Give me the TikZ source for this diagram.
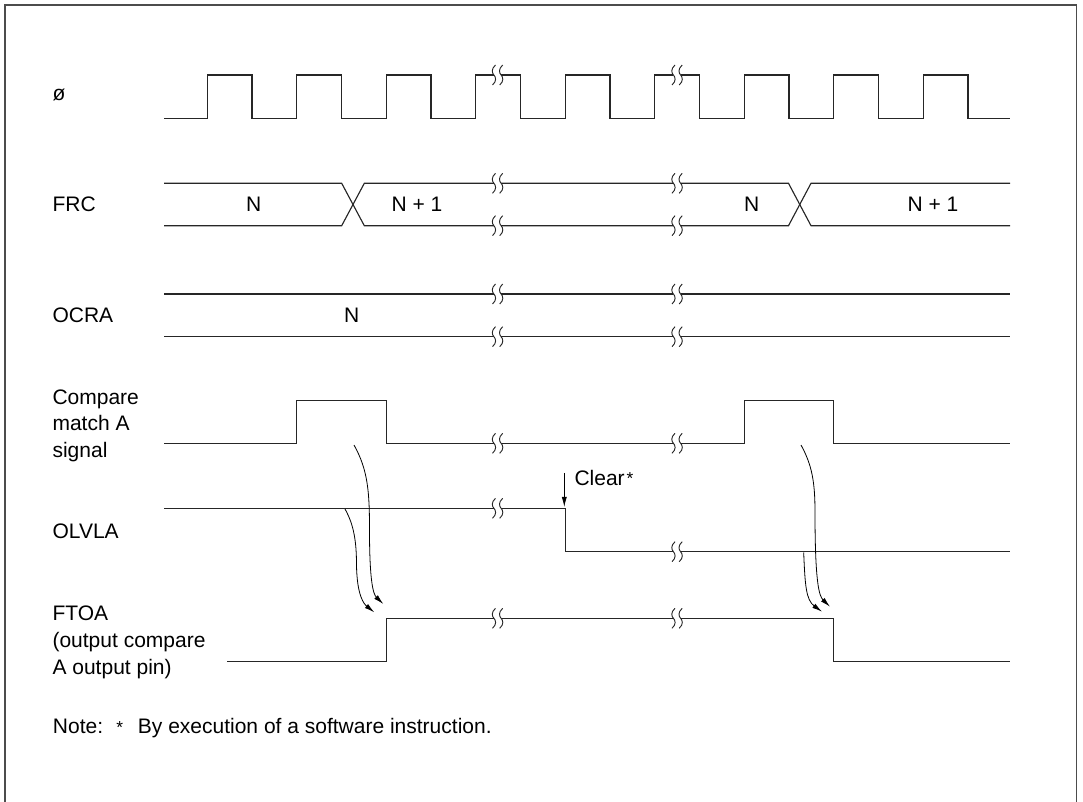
\documentclass[tikz,border=0pt]{standalone}
\usepackage{fontspec}
\setmainfont{Liberation Sans}
\usetikzlibrary{arrows.meta}
\begin{document}
\begin{tikzpicture}[x=0.75pt,y=-0.75pt,
  lbl/.style={font=\fontsize{15.75}{19}\selectfont, inner sep=0pt, anchor=base west},
  val/.style={font=\fontsize{15.75}{19}\selectfont, inner sep=0pt, anchor=base},
  star/.style={font=\fontsize{13}{13}\selectfont, inner sep=0pt, anchor=base},
  sig/.style={line width=0.85pt, black!85, line join=miter},
  flow/.style={line width=0.6pt, black, -{Latex[length=7.5pt,width=3.8pt]}},
  frame/.style={line width=1.3pt, black!70},
  wbreak/.pic={
    \fill[white] (-3.6,-2.4) rectangle (3.6,2.4);
    \draw[line width=0.7pt, black!85] (-2,-10) .. controls (-6.5,-6) and (-5.5,-2) .. (-3.6,0) .. controls (-1.7,2) and (-0.5,6) .. (-5,10);
    \draw[line width=0.7pt, black!85] (5.2,-10) .. controls (0.7,-6) and (1.7,-2) .. (3.6,0) .. controls (5.5,2) and (6.7,6) .. (2.2,10);
  }]
\useasboundingbox (0,0) rectangle (1083,802);
% frame (open at the bottom)
\draw[frame] (5,812) -- (5,5) -- (1076.5,5) -- (1076.5,812);

% ---- labels
\node[lbl] (lphi) at (52.3,101) {ø};
\node[lbl] (lfrc) at (52.3,211.5) {FRC};
\node[lbl] (locra) at (52.3,322.5) {OCRA};
\node[lbl] (lcmp1) at (52.3,404.3) {Compare};
\node[lbl] (lcmp2) at (52.3,430.8) {match A};
\node[lbl] (lcmp3) at (52.3,457.3) {signal};
\node[lbl] (lolv) at (52.3,538.5) {OLVLA};
\node[lbl] (lfto1) at (52.3,620.5) {FTOA};
\node[lbl] (lfto2) at (52.3,647.3) {(output compare};
\node[lbl] (lfto3) at (52.3,674) {A output pin)};

% ---- clock
\draw[sig] (164,118.3) foreach \k in {0,...,8} {
   -- ({207.2+89.5*\k},118.3) -- ++(0,-43.3) -- ++(44.75,0) -- ++(0,43.3) } -- (1010,118.3);

% ---- FRC
\draw[sig] (164,183.3) -- (341.7,183.3) -- (364.3,225.7) -- (788.5,225.7) -- (811,183.3) -- (1010,183.3);
\draw[sig] (164,225.7) -- (341.7,225.7) -- (364.3,183.3) -- (788.5,183.3) -- (811,225.7) -- (1010,225.7);
\node[val] (frcn1) at (253.6,212) {N};
\node[val] (frcn2) at (417,212) {N + 1};
\node[val] (frcn3) at (751.7,212) {N};
\node[val] (frcn4) at (933,212) {N + 1};

% ---- OCRA
\draw[sig] (164,294) -- (1010,294);
\draw[sig] (164,336.7) -- (1010,336.7);
\node[val] (ocran) at (351.7,323) {N};

% ---- compare match A
\draw[sig] (164,443.3) -- (296.7,443.3) -- (296.7,400.7) -- (386.2,400.7) -- (386.2,443.3)
   -- (744.2,443.3) -- (744.2,400.7) -- (833.7,400.7) -- (833.7,443.3) -- (1010,443.3);

% ---- OLVLA
\draw[sig] (164,508.3) -- (565.2,508.3) -- (565.2,551.7) -- (1010,551.7);

% ---- FTOA
\draw[sig] (227,661.7) -- (386.2,661.7) -- (386.2,618.3) -- (833.7,618.3) -- (833.7,661.7) -- (1010,661.7);

% ---- break marks
\foreach \yy in {75,183.3,225.7,294,336.7,443.3,618.3} {
  \pic at (497.5,\yy) {wbreak};
  \pic at (677,\yy) {wbreak};
}
\pic at (497.5,508.3) {wbreak};
\pic at (677,551.7) {wbreak};

% ---- causal arrows
\coordinate (a1s) at (354,445);
\coordinate (a1e) at (383.3,604);
\coordinate (a2s) at (345,509);
\coordinate (a2e) at (374.3,612.3);
\coordinate (a3s) at (801,445);
\coordinate (a3e) at (830,606.7);
\coordinate (a4s) at (803.7,552.5);
\coordinate (a4e) at (822,611.7);
\draw[flow] (a1s) .. controls (368,470) and (369.5,492) .. (369.5,530) .. controls (369.5,580) and (373,594) .. (a1e);
\draw[flow] (a2s) .. controls (354,525) and (356.5,542) .. (356.5,565) .. controls (357,596) and (364,604) .. (a2e);
\draw[flow] (a3s) .. controls (812,465) and (815,482) .. (815,512) .. controls (815,582) and (819,596) .. (a3e);
\draw[flow] (a4s) .. controls (805,585) and (806,600) .. (a4e);

% ---- clear marker
\coordinate (clrs) at (564.3,473);
\coordinate (clre) at (564.3,507);
\draw[flow] (clrs) -- (clre);
\node[lbl] (clr) at (574.3,486) {Clear};
\node[star] (clrstar) at (630,485) {*};

% ---- note
\node[lbl] (note1) at (52.7,733) {Note:};
\node[star] (note2) at (119.7,733) {*};
\node[lbl] (note3) at (137.7,733) {By execution of a software instruction.};
\end{tikzpicture}
\end{document}
